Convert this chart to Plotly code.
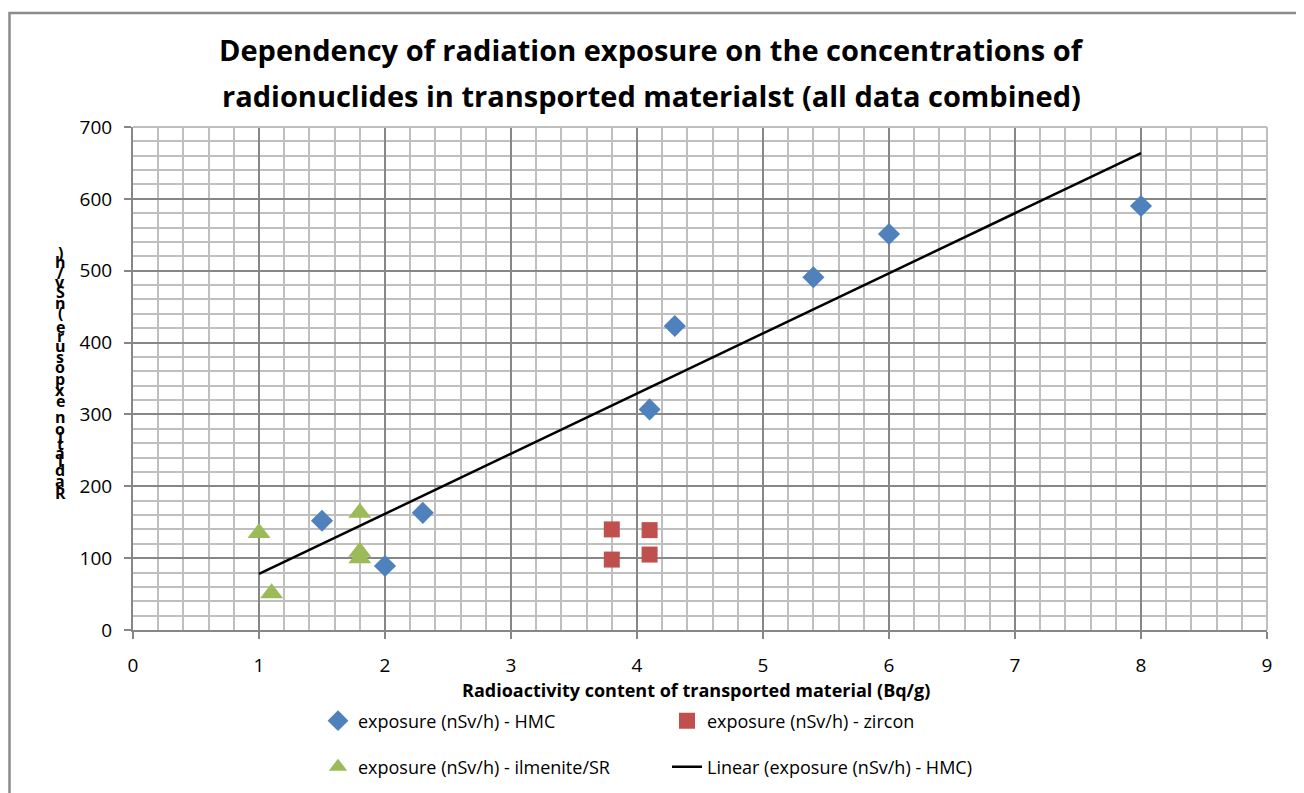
import plotly.graph_objects as go
import numpy as np

# ---- data ----
hmc_x = [1.5, 2.0, 2.3, 4.1, 4.3, 5.4, 6.0, 8.0]
hmc_y = [152, 89, 163, 307, 423, 491, 551, 590]
zircon_x = [3.8, 3.8, 4.1, 4.1]
zircon_y = [140, 98, 139, 105]
ilm_x = [1.0, 1.1, 1.8, 1.8, 1.8]
ilm_y = [135, 51, 163, 109, 100]
trend_range = [1.0, 8.0]
x_ticks = list(range(0, 10))
y_ticks = list(range(0, 800, 100))

title_lines = ["Dependency of radiation exposure on the concentrations of",
               "radionuclides in transported materialst (all data combined)"]
x_title = "Radioactivity content of transported material (Bq/g)"
y_title = "Radiation exposure (nSv/h)"
names = ["exposure (nSv/h) - HMC", "exposure (nSv/h) - zircon",
         "exposure (nSv/h) - ilmenite/SR", "Linear (exposure (nSv/h) - HMC)"]

# linear trendline of HMC series
slope, intercept = np.polyfit(hmc_x, hmc_y, 1)
trend_x = np.array(trend_range)
trend_y = slope * trend_x + intercept

FONT = "Open Sans, Lato, sans-serif"

# layout geometry: the page puts the figure 8px from the window corner
OFF = 8
W, H = 1304 - OFF, 793 - OFF
L, T = 133 - OFF, 127 - OFF
PW, PH = 1134, 503
R, B = W - L - PW, H - T - PH

def px(xr):  # window x pixel -> paper x
    return (xr - OFF - L) / PW

def py(yr):  # window y pixel -> paper y
    return (T + PH - (yr - OFF)) / PH

fig = go.Figure()
fig.add_trace(go.Scatter(x=hmc_x, y=hmc_y, mode="markers", name=names[0],
                         marker=dict(symbol="diamond", size=17, color="#4F81BD"),
                         legend="legend"))
fig.add_trace(go.Scatter(x=zircon_x, y=zircon_y, mode="markers", name=names[1],
                         marker=dict(symbol="square", size=16, color="#C0504D"),
                         legend="legend"))
fig.add_trace(go.Scatter(x=ilm_x, y=ilm_y, mode="markers", name=names[2],
                         marker=dict(symbol="triangle-up", size=20, color="#9BBB59"),
                         legend="legend2"))
fig.add_trace(go.Scatter(x=trend_x, y=trend_y, mode="lines", name=names[3],
                         line=dict(color="black", width=2.5),
                         legend="legend2"))

annotations = []
for i, line in enumerate(title_lines):
    annotations.append(dict(text="<b>%s</b>" % line, xref="paper", yref="paper",
                            x=px(651), y=py([50, 95][i]), xanchor="center",
                            yanchor="middle", showarrow=False,
                            font=dict(family=FONT, size=29, color="black")))
annotations.append(dict(text="<b>%s</b>" % x_title, xref="paper", yref="paper",
                        x=px(696), y=py(690), xanchor="center", yanchor="middle",
                        showarrow=False, font=dict(family=FONT, size=18, color="black")))

# stacked y-axis title (characters stacked vertically, reading bottom to top)
cw = {"R": 8.5, "a": 7.2, "d": 8, "i": 3.5, "t": 5, "o": 8, "n": 8, " ": 3.4,
      "e": 7.5, "x": 6.6, "p": 8, "s": 6, "u": 8, "r": 5.2, "(": 4.5, "S": 6.9,
      "v": 6.8, "/": 5.8, "h": 8, ")": 4.5}
chars = list(y_title)
widths = [cw.get(c, 7) for c in chars]
centers = []
acc = 0
for w in widths:
    centers.append(acc + w / 2)
    acc += w
c0, c1 = centers[0], centers[-1]
for c, pos in zip(chars, centers):
    if c == " ":
        continue
    yp = 493 - (pos - c0) / (c1 - c0) * (493 - 253)
    annotations.append(dict(text="<b>%s</b>" % c, xref="paper", yref="paper",
                            x=px(60), y=py(yp), xanchor="center", yanchor="middle",
                            showarrow=False,
                            font=dict(family=FONT, size=16, color="black")))

shapes = [
    # outer chart border
    dict(type="rect", xref="paper", yref="paper", x0=px(9.5), x1=px(1300),
         y0=py(815), y1=py(13), line=dict(color="#8C8C8C", width=2.5), layer="below"),
    # plot area top/right border
    dict(type="line", xref="paper", yref="paper", x0=0, x1=1, y0=1, y1=1,
         line=dict(color="#BFBFBF", width=2), layer="above"),
    dict(type="line", xref="paper", yref="paper", x0=1, x1=1, y0=0, y1=1,
         line=dict(color="#BFBFBF", width=2), layer="above"),
]

axis_common = dict(showline=True, linecolor="#878787", linewidth=2,
                   ticks="outside", tickcolor="#878787", tickwidth=2, ticklen=7,
                   showgrid=True, gridcolor="#878787", gridwidth=2, zeroline=False,
                   tickfont=dict(family=FONT, size=19, color="black"))

legend_common = dict(orientation="h", xanchor="left", yanchor="middle",
                     entrywidth=304, entrywidthmode="pixels",
                     font=dict(family=FONT, size=18, color="black"),
                     bgcolor="rgba(0,0,0,0)")

fig.update_layout(
    width=W, height=H,
    margin=dict(l=L, r=R, t=T, b=B, autoexpand=False),
    paper_bgcolor="white", plot_bgcolor="white",
    xaxis=dict(range=[0, 9], tickmode="array", tickvals=x_ticks,
               ticktext=[str(v) for v in x_ticks],
               minor=dict(dtick=0.2, showgrid=True, gridcolor="#BFBFBF", gridwidth=2),
               ticklabelstandoff=10, **axis_common),
    yaxis=dict(range=[0, 700], tickmode="array", tickvals=y_ticks,
               ticktext=[str(v) for v in y_ticks],
               minor=dict(dtick=20, showgrid=True, gridcolor="#BFBFBF", gridwidth=2),
               ticklabelstandoff=8, **axis_common),
    annotations=annotations,
    shapes=shapes,
    showlegend=True,
    legend=dict(x=px(318), y=py(721), **legend_common),
    legend2=dict(x=px(318), y=py(767), **legend_common),
)

fig.write_html("out.html")
